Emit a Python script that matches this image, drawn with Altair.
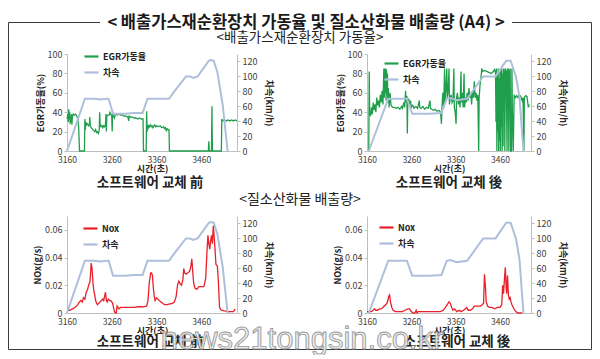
import altair as alt
import pandas as pd

# ---------------- text ----------------
MAIN_TITLE = "< 배출가스재순환장치 가동율 및 질소산화물 배출량 (A4) >"
SUB_TITLE_EGR = "<배출가스재순환장치 가동율>"
SUB_TITLE_NOX = "<질소산화물 배출량>"
CAPTION_BEFORE = "소프트웨어 교체 前"
CAPTION_AFTER = "소프트웨어 교체 後"
WATERMARK = "news21tongsin.co.kr"
X_TITLE = "시간(초)"
EGR_TITLE = "EGR가동율(%)"
NOX_TITLE = "NOx(g/s)"
SPEED_TITLE = "차속(km/h)"
EGR_NAME = "EGR가동율"
NOX_NAME = "Nox"
SPEED_NAME = "차속"

X_TICKS = [3160, 3260, 3360, 3460]
EGR_TICKS = [0, 20, 40, 60, 80, 100]
NOX_TICKS = [0, 0.02, 0.04, 0.06]
SPEED_TICKS = [0, 20, 40, 60, 80, 100, 120]

# ---------------- data (time s, value) ----------------
SPEED_BEFORE = [(3160, 0), (3200, 70), (3220, 70), (3235, 69), (3250, 70), (3253, 70), (3263, 50),
                (3290, 50), (3310, 51), (3329, 51), (3340, 70), (3388, 70), (3400, 80), (3426, 100),
                (3435, 100), (3442, 98), (3452, 100), (3476, 120), (3480, 122), (3488, 121),
                (3496, 106), (3508, 62), (3519, 0)]

SPEED_AFTER = [(3164, 0), (3208, 70), (3230, 70), (3250, 70), (3262, 50), (3300, 50), (3328, 51),
               (3340, 70), (3348, 71), (3362, 68), (3386, 70), (3422, 100), (3450, 100),
               (3474, 121), (3484, 121), (3496, 100), (3504, 72), (3513, 0)]

EGR_BEFORE = [(3160, 33), (3162, 38), (3163, 30), (3164, 43), (3165, 33), (3166, 40), (3167, 28),
              (3168, 36), (3169, 30), (3170, 38), (3171, 27), (3172, 35), (3174, 38), (3176, 37),
              (3179, 38), (3182, 36), (3184, 33), (3186, 25), (3188, 0), (3199, 0), (3200, 33),
              (3201, 22), (3202, 30), (3204, 27), (3206, 28), (3208, 26), (3210, 27), (3211, 35),
              (3212, 26), (3214, 24), (3216, 23), (3218, 22), (3220, 21), (3222, 20), (3224, 22),
              (3226, 19), (3228, 20), (3230, 18), (3232, 21), (3233, 40), (3234, 28), (3236, 25),
              (3238, 26), (3240, 24), (3242, 26), (3244, 25), (3246, 27), (3247, 38), (3248, 20),
              (3249, 36), (3251, 37), (3254, 37), (3256, 40), (3258, 38), (3260, 36), (3261, 20),
              (3262, 41), (3263, 37), (3266, 34), (3268, 38), (3272, 37), (3276, 38), (3280, 37),
              (3284, 37), (3288, 36), (3292, 36), (3296, 35), (3298, 31), (3299, 36), (3302, 35),
              (3306, 35), (3310, 34), (3314, 34), (3318, 33), (3322, 34), (3326, 33), (3330, 33),
              (3331, 0), (3337, 0), (3338, 41), (3339, 20), (3341, 27), (3343, 24), (3346, 27),
              (3348, 25), (3350, 26), (3352, 24), (3354, 26), (3356, 27), (3358, 25), (3360, 26),
              (3364, 25), (3368, 26), (3372, 24), (3376, 25), (3378, 23), (3380, 24), (3382, 21),
              (3384, 23), (3386, 22), (3388, 22), (3389, 0), (3476, 0), (3477, 10), (3478, 0),
              (3483, 0), (3484, 46), (3485, 0), (3505, 0), (3506, 33), (3508, 31), (3512, 32),
              (3516, 31), (3520, 32), (3524, 31), (3528, 32), (3532, 31), (3536, 32), (3540, 31)]

EGR_AFTER = [(3164, 0), (3165, 82), (3166, 40), (3168, 36), (3170, 45), (3172, 38), (3174, 50),
             (3176, 42), (3178, 48), (3180, 40), (3182, 55), (3184, 47), (3186, 52), (3188, 45),
             (3190, 58), (3192, 50), (3194, 62), (3196, 48), (3198, 85), (3199, 55), (3200, 85),
             (3201, 60), (3202, 85), (3203, 52), (3204, 84), (3205, 58), (3206, 80), (3207, 50),
             (3208, 65), (3209, 55), (3210, 45), (3212, 60), (3214, 48), (3216, 46), (3218, 45),
             (3222, 45), (3226, 44), (3230, 45), (3234, 43), (3238, 46), (3240, 44), (3243, 50),
             (3245, 45), (3247, 62), (3248, 50), (3250, 57), (3251, 18), (3252, 50), (3254, 54),
             (3256, 48), (3258, 52), (3260, 45), (3263, 47), (3266, 44), (3270, 46), (3274, 44),
             (3278, 52), (3279, 45), (3282, 44), (3286, 46), (3290, 43), (3294, 45), (3298, 44),
             (3302, 52), (3303, 44), (3306, 43), (3310, 42), (3314, 43), (3318, 41), (3322, 42),
             (3326, 40), (3328, 28), (3329, 44), (3331, 60), (3333, 45), (3335, 85), (3336, 50),
             (3338, 65), (3340, 85), (3341, 55), (3343, 62), (3345, 85), (3346, 48), (3348, 55),
             (3350, 58), (3352, 50), (3354, 52), (3356, 85), (3357, 45), (3359, 40), (3361, 28),
             (3362, 55), (3364, 60), (3366, 48), (3368, 55), (3370, 45), (3372, 82), (3373, 50),
             (3375, 60), (3377, 45), (3379, 80), (3380, 45), (3382, 55), (3384, 50), (3386, 60),
             (3388, 52), (3390, 65), (3392, 55), (3394, 60), (3396, 48), (3398, 62), (3400, 55),
             (3402, 72), (3404, 55), (3406, 60), (3408, 52), (3410, 58), (3412, 0), (3413, 55),
             (3415, 68), (3417, 75), (3419, 85), (3421, 82), (3425, 83), (3430, 82), (3435, 81),
             (3440, 80), (3445, 82), (3448, 84), (3450, 80), (3451, 30), (3452, 85), (3453, 0),
             (3454, 80), (3455, 20), (3456, 85), (3457, 0), (3458, 75), (3459, 10), (3460, 84),
             (3461, 0), (3462, 82), (3463, 25), (3464, 85), (3465, 0), (3466, 80), (3467, 5),
             (3468, 85), (3470, 80), (3471, 0), (3472, 85), (3474, 82), (3476, 0), (3477, 85),
             (3478, 60), (3479, 85), (3480, 0), (3481, 80), (3483, 85), (3484, 0), (3486, 0),
             (3487, 85), (3488, 40), (3490, 0), (3492, 58), (3495, 55), (3498, 57), (3501, 55),
             (3504, 58), (3507, 56), (3510, 52), (3512, 55), (3514, 0), (3515, 55), (3518, 57),
             (3521, 56), (3524, 45), (3526, 48)]

NOX_BEFORE = [(3160, 0.002), (3166, 0.002), (3172, 0.003), (3178, 0.004), (3184, 0.006),
              (3188, 0.008), (3191, 0.009), (3194, 0.008), (3197, 0.011), (3200, 0.010),
              (3203, 0.015), (3206, 0.017), (3209, 0.021), (3211, 0.022), (3213, 0.030),
              (3214, 0.036), (3216, 0.032), (3218, 0.022), (3220, 0.016), (3222, 0.013),
              (3224, 0.009), (3226, 0.007), (3228, 0.006), (3231, 0.007), (3234, 0.008),
              (3237, 0.009), (3240, 0.010), (3242, 0.009), (3244, 0.012), (3246, 0.015),
              (3248, 0.009), (3250, 0.008), (3252, 0.010), (3255, 0.009), (3258, 0.009),
              (3260, 0.008), (3262, 0.007), (3264, 0.004), (3266, 0.001), (3268, 0.000),
              (3270, 0.000), (3272, 0.005), (3274, 0.004), (3276, 0.003), (3280, 0.004),
              (3290, 0.004), (3300, 0.004), (3310, 0.004), (3320, 0.0045), (3330, 0.0045),
              (3338, 0.005), (3341, 0.009), (3344, 0.022), (3347, 0.029), (3349, 0.029),
              (3351, 0.027), (3353, 0.018), (3355, 0.012), (3357, 0.009), (3360, 0.011),
              (3363, 0.010), (3366, 0.009), (3370, 0.008), (3374, 0.007), (3378, 0.006),
              (3384, 0.006), (3390, 0.0065), (3396, 0.007), (3400, 0.008), (3404, 0.012),
              (3407, 0.020), (3410, 0.023), (3413, 0.021), (3416, 0.020), (3419, 0.024),
              (3421, 0.032), (3423, 0.029), (3426, 0.028), (3430, 0.029), (3434, 0.030),
              (3437, 0.034), (3439, 0.039), (3441, 0.030), (3443, 0.022), (3446, 0.018),
              (3450, 0.017), (3455, 0.019), (3466, 0.019), (3470, 0.025), (3473, 0.045),
              (3475, 0.056), (3477, 0.050), (3479, 0.046), (3481, 0.052), (3483, 0.056),
              (3485, 0.050), (3487, 0.063), (3489, 0.055), (3491, 0.045), (3493, 0.035),
              (3496, 0.034), (3498, 0.025), (3501, 0.004), (3505, 0.002), (3512, 0.0015),
              (3520, 0.001), (3528, 0.001), (3532, 0.001), (3536, 0.003)]

NOX_AFTER = [(3160, 0.001), (3166, 0.001), (3170, 0.001), (3174, 0.002), (3177, 0.003),
             (3180, 0.002), (3184, 0.002), (3188, 0.003), (3192, 0.003), (3196, 0.004),
             (3199, 0.005), (3202, 0.006), (3205, 0.007), (3207, 0.009), (3209, 0.012),
             (3211, 0.013), (3213, 0.008), (3216, 0.004), (3219, 0.002), (3224, 0.001),
             (3232, 0.001), (3240, 0.001), (3246, 0.002), (3252, 0.003), (3256, 0.003),
             (3260, 0.001), (3264, 0.000), (3268, 0.000), (3271, 0.002), (3273, 0.000),
             (3276, 0.001), (3290, 0.001), (3310, 0.001), (3325, 0.001), (3332, 0.002),
             (3337, 0.004), (3341, 0.006), (3345, 0.008), (3348, 0.007), (3351, 0.004),
             (3354, 0.002), (3357, 0.003), (3360, 0.002), (3363, 0.001), (3368, 0.002),
             (3372, 0.001), (3378, 0.002), (3382, 0.003), (3385, 0.004), (3388, 0.002),
             (3393, 0.002), (3398, 0.003), (3402, 0.005), (3406, 0.005), (3411, 0.005),
             (3416, 0.005), (3420, 0.006), (3423, 0.007), (3425, 0.028), (3427, 0.020),
             (3429, 0.008), (3432, 0.005), (3436, 0.004), (3442, 0.004), (3448, 0.003),
             (3454, 0.004), (3460, 0.004), (3464, 0.006), (3466, 0.020), (3468, 0.014),
             (3470, 0.024), (3472, 0.033), (3474, 0.018), (3475, 0.014), (3477, 0.027),
             (3479, 0.013), (3481, 0.010), (3483, 0.011), (3485, 0.008), (3487, 0.006),
             (3490, 0.004), (3493, 0.002), (3496, 0.001), (3500, 0.000), (3510, 0.000)]

# ---------------- style ----------------
FONT = "Noto Sans CJK KR"
GREEN = "#1F9E4B"
RED = "#E8202A"
SPEED_COLOR = "#AEBEDB"
AXIS_GRAY = "#BFBFBF"
TEXT_DARK = "#404040"
FRAME = "#3a3a3a"

LEFT_X = 67      # page x of left plots
RIGHT_X = 367    # page x of right plots
TOP_Y = 54       # page y of top plots
BOT_Y = 216      # page y of bottom plots
LEFT_W = 170
RIGHT_W = 164
PLOT_H = 97


def panel(main_pts, speed_pts, main_name, main_color, main_title, main_dom, main_ticks,
          xdom, width, legend_x, legend_y, label_expr=None, extra=None):
    dm = pd.DataFrame(main_pts, columns=["t", "v"])
    dm["s"] = main_name
    ds = pd.DataFrame(speed_pts, columns=["t", "v"])
    ds["s"] = SPEED_NAME
    x = alt.X("t:Q", scale=alt.Scale(domain=xdom, nice=False, zero=False),
              axis=alt.Axis(values=X_TICKS, format="d", title=X_TITLE, ticks=False,
                            labelFlush=False, labelPadding=4, titlePadding=1,
                            labelFontSize=8.5))
    cscale = alt.Scale(domain=[main_name, SPEED_NAME], range=[main_color, SPEED_COLOR])
    laxis = dict(orient="left", values=main_ticks, title=main_title, titlePadding=2)
    if label_expr:
        laxis["labelExpr"] = label_expr
    main = alt.Chart(dm).mark_line(strokeWidth=1.3).encode(
        x=x,
        y=alt.Y("v:Q", scale=alt.Scale(domain=main_dom, nice=False), axis=alt.Axis(**laxis)),
        color=alt.Color("s:N", scale=cscale, legend=alt.Legend(
            orient="none", legendX=legend_x, legendY=legend_y, title=None,
            symbolType="stroke", symbolSize=196, symbolStrokeWidth=2.2, padding=0,
            rowPadding=2, labelFont=FONT, labelFontSize=9, labelFontWeight="bold",
            labelColor="#222222", labelOffset=3)),
    )
    speed = alt.Chart(ds).mark_line(strokeWidth=2).encode(
        x=x,
        y=alt.Y("v:Q", scale=alt.Scale(domain=[0, 130], nice=False),
                axis=alt.Axis(orient="right", values=SPEED_TICKS, title=SPEED_TITLE,
                              titlePadding=7)),
        color=alt.Color("s:N", scale=cscale),
    )
    layers = [main, speed] + (extra or [])
    return alt.layer(*layers).resolve_scale(y="independent").properties(width=width, height=PLOT_H)


# ---------------- decorations (positioned relative to bottom-right plot) ----------------
one = pd.DataFrame({"k": [0]})


def lx(px):
    return px - RIGHT_X


def ly(py):
    return py - BOT_Y


def text(s, px, py, size, weight="normal", color="#222222", font=FONT, **kw):
    return alt.Chart(one).mark_text(fontSize=size, fontWeight=weight, color=color, font=font,
                                    align="center", baseline="middle", **kw).encode(
        x=alt.value(lx(px)), y=alt.value(ly(py)), text=alt.value(s))


def rule(px1, py1, px2, py2):
    return alt.Chart(one).mark_rule(color=FRAME, strokeWidth=1).encode(
        x=alt.value(lx(px1)), x2=alt.value(lx(px2)), y=alt.value(ly(py1)), y2=alt.value(ly(py2)))


canvas = alt.Chart(one).mark_rect(fillOpacity=0, strokeOpacity=0).encode(
    x=alt.value(lx(8)), x2=alt.value(lx(592)), y=alt.value(ly(8)), y2=alt.value(ly(350)))

FRAME_TOP = 22.5
decor = [
    canvas,
    rule(8.5, FRAME_TOP, 100, FRAME_TOP),
    rule(512, FRAME_TOP, 591.5, FRAME_TOP),
    rule(8.5, FRAME_TOP, 8.5, 349.5),
    rule(591.5, FRAME_TOP, 591.5, 349.5),
    rule(8.5, 349.5, 591.5, 349.5),
    text(MAIN_TITLE, 306, 23, 16.5, "bold", "#1a1a1a"),
    text(SUB_TITLE_EGR, 300, 37.5, 13.5),
    text(CAPTION_BEFORE, 150, 183, 13.5, "bold"),
    text(CAPTION_AFTER, 449, 183, 13.5, "bold"),
    text(SUB_TITLE_NOX, 300, 200, 14),
    text(CAPTION_BEFORE, 150, 342, 13.5, "bold"),
    text(CAPTION_AFTER, 457, 342, 13.5, "bold"),
    text(WATERMARK, 302, 340, 31, "normal", "#ececec", "Liberation Sans",
         stroke="#8f8f8f", strokeWidth=0.9, opacity=0.9),
]

tl = panel(EGR_BEFORE, SPEED_BEFORE, EGR_NAME, GREEN, EGR_TITLE, [0, 100], EGR_TICKS,
           [3160, 3540], LEFT_W, 16, -6)
tr = panel(EGR_AFTER, SPEED_AFTER, EGR_NAME, GREEN, EGR_TITLE, [0, 100], EGR_TICKS,
           [3160, 3530], RIGHT_W, 16, 1)
nox_expr = "datum.value == 0 ? '0' : format(datum.value, '.2f')"
bl = panel(NOX_BEFORE, SPEED_BEFORE, NOX_NAME, RED, NOX_TITLE, [0, 0.07], NOX_TICKS,
           [3160, 3540], LEFT_W, 15, 4, label_expr=nox_expr)
br = panel(NOX_AFTER, SPEED_AFTER, NOX_NAME, RED, NOX_TITLE, [0, 0.07], NOX_TICKS,
           [3160, 3530], RIGHT_W, 11, 3, label_expr=nox_expr, extra=decor)

chart = alt.concat(
    tl, tr, bl, br, columns=2,
    spacing={"row": BOT_Y - TOP_Y - PLOT_H, "column": RIGHT_X - LEFT_X - LEFT_W},
).resolve_scale(color="independent").properties(
    bounds="flush", padding=0, background="white"
).configure_view(stroke=None).configure_axis(
    grid=False, labelFont=FONT, labelFontSize=9, labelColor=TEXT_DARK,
    titleFont=FONT, titleFontSize=9, titleFontWeight="bold", titleColor="#262626",
    domainColor=AXIS_GRAY, tickColor=AXIS_GRAY, tickSize=3, labelPadding=2,
)

chart.save("out.html", embed_options={"renderer": "svg", "actions": False})
